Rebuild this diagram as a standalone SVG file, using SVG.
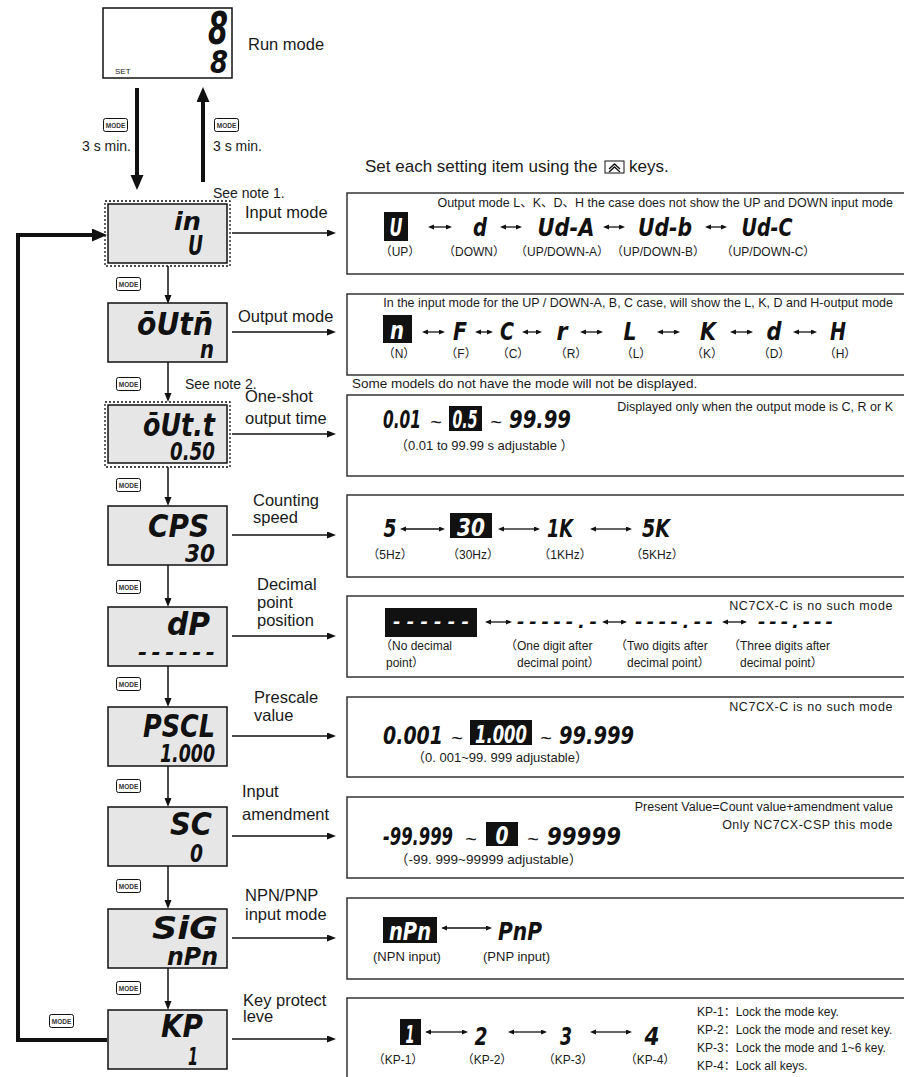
<svg xmlns="http://www.w3.org/2000/svg" xmlns:xlink="http://www.w3.org/1999/xlink" width="904" height="1077" viewBox="0 0 904 1077">
<style>
text{font-family:"Liberation Sans",Arial,"Noto Sans CJK SC",sans-serif;fill:#1a1a1a}
.t16{font-size:16.5px}
.t14{font-size:14px}
.t13{font-size:13px}
.t12{font-size:12px}
.t11{font-size:12.5px}
.seg{font-family:"DejaVu Sans",sans-serif;font-weight:bold;font-style:oblique;fill:#111}
.w{fill:#fff}
.tl{font-size:20px}
.nb{fill:#e6e6e6;stroke:#111;stroke-width:1.5}
.dot{fill:none;stroke:#111;stroke-width:1.3;stroke-dasharray:2 2}
.pn{fill:#fff;stroke:#333;stroke-width:1.5}
.blk{fill:#111}
.thick{fill:none;stroke:#111;stroke-width:4}
.thin{fill:none;stroke:#111;stroke-width:1.5}
.dbl{fill:none;stroke:#111;stroke-width:1.3;marker-start:url(#dh);marker-end:url(#dh)}
.mk{fill:#fff;stroke:#111;stroke-width:1}
.mt{font-size:6.5px;font-weight:bold;fill:#333}
</style>
<defs>
<marker id="hb" markerUnits="userSpaceOnUse" markerWidth="16" markerHeight="14" refX="0" refY="6.5" orient="auto"><path d="M0,0 L15,6.5 L0,13 z" fill="#111"/></marker>
<marker id="ht" markerUnits="userSpaceOnUse" markerWidth="10" markerHeight="8" refX="0" refY="3.5" orient="auto"><path d="M0,0 L9,3.5 L0,7 z" fill="#111"/></marker>
<marker id="dh" markerUnits="userSpaceOnUse" markerWidth="7" markerHeight="6" refX="0" refY="2.5" orient="auto-start-reverse"><path d="M0,0 L6,2.5 L0,5 z" fill="#111"/></marker>
<symbol id="mode" viewBox="0 0 25 14" width="25" height="14"><rect class="mk" x="0.5" y="0.5" width="24" height="13" rx="2"/><text class="mt" x="12.5" y="9.5" text-anchor="middle">MODE</text></symbol>
</defs>

<!-- Run mode -->
<g id="run">
<rect x="103" y="8" width="129" height="70" fill="#fff" stroke="#111" stroke-width="1.5"/>
<text class="seg" x="228" y="44" font-size="44" text-anchor="end" textLength="20" lengthAdjust="spacingAndGlyphs">8</text>
<text class="seg" x="228" y="73" font-size="32" text-anchor="end" textLength="18" lengthAdjust="spacingAndGlyphs">8</text>
<text x="115" y="74" font-size="8" fill="#333">SET</text>
</g>
<text class="t16" x="248" y="50" font-size="17.5">Run mode</text>
<use xlink:href="#mode" x="103" y="118"/>
<text class="t14" x="82" y="151">3 s min.</text>
<use xlink:href="#mode" x="214" y="118"/>
<text class="t14" x="213" y="151">3 s min.</text>
<text class="t14" x="213" y="198">See note 1.</text>
<text x="365" y="172" font-size="17">Set each setting item using the</text>
<g id="upkey"><rect x="605" y="161" width="19" height="12" fill="#fff" stroke="#111" stroke-width="1"/><path d="M609,169 L614.5,164 L620,169 M609,172 L614.5,167 L620,172" fill="none" stroke="#111" stroke-width="1.3"/></g>
<text x="629" y="172" font-size="17">keys.</text>

<!-- Nodes -->
<g id="n-input">
<rect class="dot" x="105" y="201" width="125" height="65"/>
<rect class="nb" x="108" y="204" width="119" height="59"/>
<text class="seg" x="201" y="230" font-size="25" text-anchor="end" textLength="27" lengthAdjust="spacingAndGlyphs">in</text>
<text class="seg" x="203" y="255" font-size="26" text-anchor="end" textLength="15" lengthAdjust="spacingAndGlyphs">U</text>
</g>
<text class="t16" x="245" y="218">Input mode</text>

<g id="n-output">
<rect class="nb" x="108" y="303" width="119" height="59"/>
<text class="seg" x="213" y="335" font-size="32" text-anchor="end" textLength="76" lengthAdjust="spacingAndGlyphs">ōUtn̄</text>
<text class="seg" x="214" y="358" font-size="24" text-anchor="end" textLength="14" lengthAdjust="spacingAndGlyphs">n</text>
</g>
<text class="t16" x="238" y="322">Output mode</text>

<g id="n-oneshot">
<rect class="dot" x="105" y="402" width="125" height="65"/>
<rect class="nb" x="108" y="405" width="119" height="58"/>
<text class="seg" x="215" y="436" font-size="32" text-anchor="end" textLength="72" lengthAdjust="spacingAndGlyphs">ōUt.t</text>
<text class="seg" x="215" y="460" font-size="24" text-anchor="end" textLength="45" lengthAdjust="spacingAndGlyphs">0.50</text>
</g>
<text class="t16" x="245" y="402">One-shot</text>
<text class="t16" x="245" y="424">output time</text>

<g id="n-cps">
<rect class="nb" x="108" y="506" width="119" height="59"/>
<text class="seg" x="209" y="537" font-size="32" text-anchor="end" textLength="61" lengthAdjust="spacingAndGlyphs">CPS</text>
<text class="seg" x="215" y="562" font-size="24" text-anchor="end" textLength="30" lengthAdjust="spacingAndGlyphs">30</text>
</g>
<text class="t16" x="253" y="506">Counting</text>
<text class="t16" x="253" y="523">speed</text>

<g id="n-dp">
<rect class="nb" x="108" y="607" width="119" height="59"/>
<text class="seg" x="210" y="635" font-size="32" text-anchor="end" textLength="43" lengthAdjust="spacingAndGlyphs">dP</text>
<text class="seg" x="215" y="660" font-size="22" text-anchor="end" textLength="77" lengthAdjust="spacing">------</text>
</g>
<text class="t16" x="257" y="590">Decimal</text>
<text class="t16" x="257" y="608">point</text>
<text class="t16" x="257" y="626">position</text>

<g id="n-pscl">
<rect class="nb" x="108" y="707" width="119" height="59"/>
<text class="seg" x="215" y="737" font-size="32" text-anchor="end" textLength="72" lengthAdjust="spacingAndGlyphs">PSCL</text>
<text class="seg" x="215" y="762" font-size="24" text-anchor="end" textLength="55" lengthAdjust="spacingAndGlyphs">1.000</text>
</g>
<text class="t16" x="254" y="703">Prescale</text>
<text class="t16" x="254" y="721">value</text>

<g id="n-sc">
<rect class="nb" x="108" y="807" width="119" height="59"/>
<text class="seg" x="212" y="835" font-size="32" text-anchor="end" textLength="42" lengthAdjust="spacingAndGlyphs">SC</text>
<text class="seg" x="203" y="862" font-size="24" text-anchor="end" textLength="13" lengthAdjust="spacingAndGlyphs">0</text>
</g>
<text class="t16" x="242" y="797">Input</text>
<text class="t16" x="242" y="820">amendment</text>

<g id="n-sig">
<rect class="nb" x="108" y="909" width="119" height="59"/>
<text class="seg" x="218" y="939" font-size="32" text-anchor="end" textLength="66" lengthAdjust="spacingAndGlyphs">SiG</text>
<text class="seg" x="218" y="965" font-size="24" text-anchor="end" textLength="51" lengthAdjust="spacingAndGlyphs">nPn</text>
</g>
<text class="t16" x="245" y="901">NPN/PNP</text>
<text class="t16" x="245" y="920">input mode</text>

<g id="n-kp">
<rect class="nb" x="108" y="1010" width="119" height="59"/>
<text class="seg" x="203" y="1037" font-size="32" text-anchor="end" textLength="42" lengthAdjust="spacingAndGlyphs">KP</text>
<text class="seg" x="198" y="1065" font-size="24" text-anchor="end" textLength="10" lengthAdjust="spacingAndGlyphs">1</text>
</g>
<text class="t16" x="243" y="1006">Key protect</text>
<text class="t16" x="243" y="1022">leve</text>

<!-- MODE keys along chain -->
<use xlink:href="#mode" x="116" y="277"/>
<use xlink:href="#mode" x="116" y="377"/>
<use xlink:href="#mode" x="116" y="478"/>
<use xlink:href="#mode" x="116" y="580"/>
<use xlink:href="#mode" x="116" y="677"/>
<use xlink:href="#mode" x="116" y="779"/>
<use xlink:href="#mode" x="116" y="879"/>
<use xlink:href="#mode" x="116" y="981"/>
<use xlink:href="#mode" x="49" y="1014"/>
<text class="t14" x="185" y="389">See note 2.</text>

<!-- Connectors -->
<g id="connectors">
<path class="thick" d="M137,88 V175" marker-end="url(#hb)"/>
<path class="thick" d="M203,182 V102" marker-end="url(#hb)"/>
<path class="thick" d="M107,1040 H18 V235 H92" marker-end="url(#hb)"/>
<path class="thin" d="M168,266 V295" marker-end="url(#ht)"/>
<path class="thin" d="M168,362 V393" marker-end="url(#ht)"/>
<path class="thin" d="M168,467 V497" marker-end="url(#ht)"/>
<path class="thin" d="M168,565 V598" marker-end="url(#ht)"/>
<path class="thin" d="M168,666 V698" marker-end="url(#ht)"/>
<path class="thin" d="M168,766 V798" marker-end="url(#ht)"/>
<path class="thin" d="M168,866 V900" marker-end="url(#ht)"/>
<path class="thin" d="M168,968 V1001" marker-end="url(#ht)"/>
<path class="thin" d="M232,233 H327" marker-end="url(#ht)"/>
<path class="thin" d="M232,332 H327" marker-end="url(#ht)"/>
<path class="thin" d="M232,434 H327" marker-end="url(#ht)"/>
<path class="thin" d="M232,535 H327" marker-end="url(#ht)"/>
<path class="thin" d="M232,636 H327" marker-end="url(#ht)"/>
<path class="thin" d="M232,736 H327" marker-end="url(#ht)"/>
<path class="thin" d="M232,836 H327" marker-end="url(#ht)"/>
<path class="thin" d="M232,938 H327" marker-end="url(#ht)"/>
<path class="thin" d="M232,1039 H327" marker-end="url(#ht)"/>
</g>

<!-- Panel 1 -->
<g id="p-input">
<rect class="pn" x="347" y="193" width="600" height="81"/>
<text class="t11" x="893" y="207" text-anchor="end">Output mode L、K、D、H the case does not show the UP and DOWN input mode</text>
<rect class="blk" x="384" y="212" width="24" height="29"/>
<text class="seg w" x="396" y="236" font-size="24" text-anchor="middle" textLength="13" lengthAdjust="spacingAndGlyphs">U</text>
<text class="seg" x="480" y="236" font-size="24" text-anchor="middle" textLength="14" lengthAdjust="spacingAndGlyphs">d</text>
<text class="seg" x="566" y="236" font-size="24" text-anchor="middle" textLength="57" lengthAdjust="spacingAndGlyphs">Ud-A</text>
<text class="seg" x="665" y="236" font-size="24" text-anchor="middle" textLength="54" lengthAdjust="spacingAndGlyphs">Ud-b</text>
<text class="seg" x="767" y="236" font-size="24" text-anchor="middle" textLength="51" lengthAdjust="spacingAndGlyphs">Ud-C</text>
<path class="dbl" d="M434,227 H446"/>
<path class="dbl" d="M506,227 H516"/>
<path class="dbl" d="M609,227 H619"/>
<path class="dbl" d="M711,227 H721"/>
<text class="t12" x="400" y="256" text-anchor="middle">（UP）</text>
<text class="t12" x="474" y="256" text-anchor="middle">（DOWN）</text>
<text class="t12" x="562" y="256" text-anchor="middle">（UP/DOWN-A）</text>
<text class="t12" x="658" y="256" text-anchor="middle">（UP/DOWN-B）</text>
<text class="t12" x="768" y="256" text-anchor="middle">（UP/DOWN-C）</text>
</g>

<!-- Panel 2 -->
<g id="p-output">
<rect class="pn" x="347" y="294" width="600" height="81"/>
<text class="t11" x="893" y="307" text-anchor="end">In the input mode for the UP / DOWN-A, B, C case, will show the L, K, D and H-output mode</text>
<rect class="blk" x="383" y="315" width="29" height="28"/>
<text class="seg w" x="397" y="339" font-size="24" text-anchor="middle" textLength="14" lengthAdjust="spacingAndGlyphs">n</text>
<text class="seg" x="460" y="340" font-size="24" text-anchor="middle" textLength="14" lengthAdjust="spacingAndGlyphs">F</text>
<text class="seg" x="507" y="340" font-size="24" text-anchor="middle" textLength="14" lengthAdjust="spacingAndGlyphs">C</text>
<text class="seg" x="562" y="340" font-size="24" text-anchor="middle" textLength="11" lengthAdjust="spacingAndGlyphs">r</text>
<text class="seg" x="630" y="340" font-size="24" text-anchor="middle" textLength="13" lengthAdjust="spacingAndGlyphs">L</text>
<text class="seg" x="708" y="340" font-size="24" text-anchor="middle" textLength="16" lengthAdjust="spacingAndGlyphs">K</text>
<text class="seg" x="774" y="340" font-size="24" text-anchor="middle" textLength="15" lengthAdjust="spacingAndGlyphs">d</text>
<text class="seg" x="838" y="340" font-size="24" text-anchor="middle" textLength="16" lengthAdjust="spacingAndGlyphs">H</text>
<path class="dbl" d="M428,332 H439"/>
<path class="dbl" d="M481,332 H487"/>
<path class="dbl" d="M528,332 H536"/>
<path class="dbl" d="M586,332 H597"/>
<path class="dbl" d="M663,332 H674"/>
<path class="dbl" d="M736,332 H747"/>
<path class="dbl" d="M799,332 H811"/>
<text class="t12" x="399" y="358" text-anchor="middle">（N）</text>
<text class="t12" x="461" y="358" text-anchor="middle">（F）</text>
<text class="t12" x="513" y="358" text-anchor="middle">（C）</text>
<text class="t12" x="571" y="358" text-anchor="middle">（R）</text>
<text class="t12" x="636" y="358" text-anchor="middle">（L）</text>
<text class="t12" x="707" y="358" text-anchor="middle">（K）</text>
<text class="t12" x="774" y="358" text-anchor="middle">（D）</text>
<text class="t12" x="840" y="358" text-anchor="middle">（H）</text>
</g>
<text x="352" y="388" font-size="13.5">Some models do not have the mode will not be displayed.</text>

<!-- Panel 3 -->
<g id="p-oneshot">
<rect class="pn" x="347" y="395" width="600" height="81"/>
<text class="t11" x="893" y="411" text-anchor="end">Displayed only when the output mode is C, R or K</text>
<text class="seg" x="383" y="428" font-size="24" textLength="38" lengthAdjust="spacingAndGlyphs">0.01</text>
<text class="tl" x="436" y="429" text-anchor="middle">~</text>
<rect class="blk" x="449" y="406" width="33" height="25"/>
<text class="seg w" x="465" y="428" font-size="24" text-anchor="middle" textLength="25" lengthAdjust="spacingAndGlyphs">0.5</text>
<text class="tl" x="496" y="429" text-anchor="middle">~</text>
<text class="seg" x="509" y="428" font-size="24" textLength="62" lengthAdjust="spacingAndGlyphs">99.99</text>
<text class="t13" x="395" y="450">（0.01 to 99.99 s adjustable ）</text>
</g>

<!-- Panel 4 -->
<g id="p-cps">
<rect class="pn" x="347" y="495" width="600" height="82"/>
<rect class="blk" x="450" y="513" width="42" height="25"/>
<text class="seg" x="390" y="537" font-size="24" text-anchor="middle" textLength="13" lengthAdjust="spacingAndGlyphs">5</text>
<text class="seg w" x="471" y="536" font-size="24" text-anchor="middle" textLength="28" lengthAdjust="spacingAndGlyphs">30</text>
<text class="seg" x="560" y="537" font-size="24" text-anchor="middle" textLength="26" lengthAdjust="spacingAndGlyphs">1K</text>
<text class="seg" x="656" y="537" font-size="24" text-anchor="middle" textLength="28" lengthAdjust="spacingAndGlyphs">5K</text>
<path class="dbl" d="M406,529 H439"/>
<path class="dbl" d="M504,529 H534"/>
<path class="dbl" d="M596,529 H626"/>
<text class="t12" x="390" y="559" text-anchor="middle">（5Hz）</text>
<text class="t12" x="473" y="559" text-anchor="middle">（30Hz）</text>
<text class="t12" x="565" y="559" text-anchor="middle">（1KHz）</text>
<text class="t12" x="657" y="559" text-anchor="middle">（5KHz）</text>
</g>

<!-- Panel 5 -->
<g id="p-dp">
<rect class="pn" x="347" y="596" width="600" height="81"/>
<text class="t11" x="893" y="610" text-anchor="end" letter-spacing="0.6">NC7CX-C is no such mode</text>
<rect class="blk" x="385" y="608" width="92" height="29"/>
<text class="seg w" x="393" y="628" font-size="18" textLength="76" lengthAdjust="spacing">------</text>
<path class="dbl" d="M491,622 H506"/>
<text class="seg" x="517" y="628" font-size="18" textLength="80" lengthAdjust="spacing">-----.-</text>
<path class="dbl" d="M608,622 H621"/>
<text class="seg" x="635" y="628" font-size="18" textLength="78" lengthAdjust="spacing">----.--</text>
<path class="dbl" d="M728,622 H741"/>
<text class="seg" x="758" y="628" font-size="18" textLength="75" lengthAdjust="spacing">---.---</text>
<text class="t12" x="380" y="650">（No decimal</text>
<text class="t12" x="386" y="667">point）</text>
<text class="t12" x="505" y="650">（One digit after</text>
<text class="t12" x="517" y="667">decimal point）</text>
<text class="t12" x="615" y="650">（Two digits after</text>
<text class="t12" x="627" y="667">decimal point）</text>
<text class="t12" x="728" y="650">（Three digits after</text>
<text class="t12" x="740" y="667">decimal point）</text>
</g>

<!-- Panel 6 -->
<g id="p-pscl">
<rect class="pn" x="347" y="697" width="600" height="80"/>
<text class="t11" x="893" y="711" text-anchor="end" letter-spacing="0.6">NC7CX-C is no such mode</text>
<text class="seg" x="383" y="744" font-size="24" textLength="60" lengthAdjust="spacingAndGlyphs">0.001</text>
<text class="tl" x="457" y="745" text-anchor="middle">~</text>
<rect class="blk" x="470" y="720" width="62" height="25"/>
<text class="seg w" x="501" y="743" font-size="24" text-anchor="middle" textLength="52" lengthAdjust="spacingAndGlyphs">1.000</text>
<text class="tl" x="546" y="745" text-anchor="middle">~</text>
<text class="seg" x="559" y="744" font-size="24" textLength="75" lengthAdjust="spacingAndGlyphs">99.999</text>
<text class="t13" x="412" y="762">（0. 001~99. 999 adjustable）</text>
</g>

<!-- Panel 7 -->
<g id="p-sc">
<rect class="pn" x="347" y="797" width="600" height="81"/>
<text class="t11" x="893" y="811" text-anchor="end">Present Value=Count value+amendment value</text>
<text class="t11" x="893" y="829" text-anchor="end" letter-spacing="0.5">Only NC7CX-CSP this mode</text>
<text class="seg" x="383" y="845" font-size="24" textLength="70" lengthAdjust="spacingAndGlyphs">-99.999</text>
<text class="tl" x="471" y="846" text-anchor="middle">~</text>
<rect class="blk" x="486" y="822" width="32" height="24"/>
<text class="seg w" x="502" y="844" font-size="24" text-anchor="middle" textLength="13" lengthAdjust="spacingAndGlyphs">0</text>
<text class="tl" x="533" y="846" text-anchor="middle">~</text>
<text class="seg" x="547" y="845" font-size="24" textLength="74" lengthAdjust="spacingAndGlyphs">99999</text>
<text x="395" y="864" font-size="13.5">（-99. 999~99999 adjustable）</text>
</g>

<!-- Panel 8 -->
<g id="p-sig">
<rect class="pn" x="347" y="898" width="600" height="81"/>
<rect class="blk" x="383" y="917" width="54" height="26"/>
<text class="seg w" x="410" y="940" font-size="24" text-anchor="middle" textLength="42" lengthAdjust="spacingAndGlyphs">nPn</text>
<path class="dbl" d="M447,928 H486"/>
<text class="seg" x="498" y="940" font-size="24" textLength="44" lengthAdjust="spacingAndGlyphs">PnP</text>
<text class="t13" x="373" y="961">(NPN input)</text>
<text class="t13" x="483" y="961">(PNP input)</text>
</g>

<!-- Panel 9 -->
<g id="p-kp">
<rect class="pn" x="347" y="998" width="600" height="100"/>
<rect class="blk" x="400" y="1019" width="21" height="26"/>
<text class="seg w" x="410" y="1043" font-size="24" text-anchor="middle" textLength="9" lengthAdjust="spacingAndGlyphs">1</text>
<text class="seg" x="481" y="1045" font-size="24" text-anchor="middle" textLength="13" lengthAdjust="spacingAndGlyphs">2</text>
<text class="seg" x="566" y="1045" font-size="24" text-anchor="middle" textLength="12" lengthAdjust="spacingAndGlyphs">3</text>
<text class="seg" x="652" y="1045" font-size="24" text-anchor="middle" textLength="15" lengthAdjust="spacingAndGlyphs">4</text>
<path class="dbl" d="M431,1032 H462"/>
<path class="dbl" d="M514,1032 H541"/>
<path class="dbl" d="M596,1032 H626"/>
<text class="t12" x="398" y="1064" text-anchor="middle">（KP-1）</text>
<text class="t12" x="487" y="1064" text-anchor="middle">（KP-2）</text>
<text class="t12" x="568" y="1064" text-anchor="middle">（KP-3）</text>
<text class="t12" x="650" y="1064" text-anchor="middle">（KP-4）</text>
<text class="t12" x="697" y="1016">KP-1：Lock the mode key.</text>
<text class="t12" x="697" y="1034">KP-2：Lock the mode and reset key.</text>
<text class="t12" x="697" y="1052">KP-3：Lock the mode and 1~6 key.</text>
<text class="t12" x="697" y="1070">KP-4：Lock all keys.</text>
</g>
</svg>
